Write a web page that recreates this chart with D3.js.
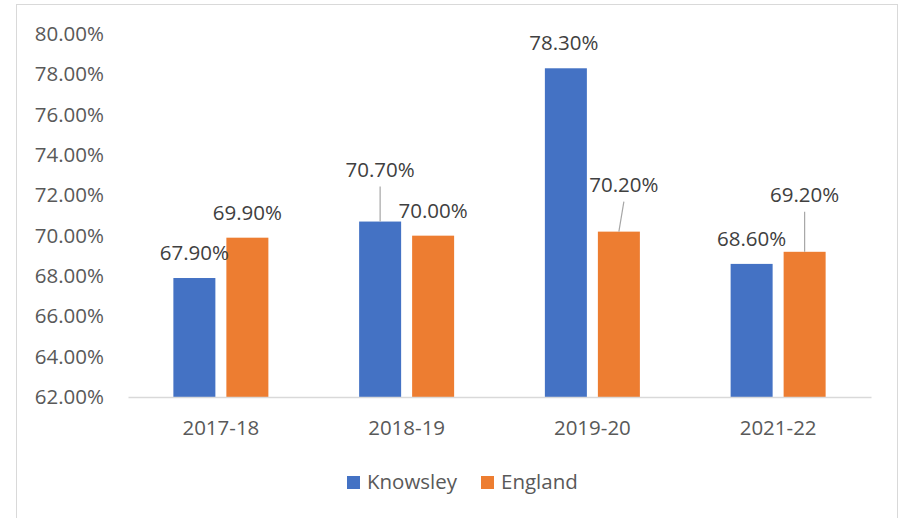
<!DOCTYPE html>
<html lang="en">
<head>
    <meta charset="UTF-8">
    <title>Knowsley vs England</title>
    <style>
        html,body{
            margin: 0;
            padding: 0;
            background: #fff;
        }
        svg text{
            font-family: "Open Sans", "Liberation Sans", sans-serif;
        }
    </style>
</head>
<body>
<div id="chart"></div>

<script src="https://d3js.org/d3.v7.min.js"></script>
<script>
    // data
    const years = ['2017-18', '2018-19', '2019-20', '2021-22']
    const series = ['Knowsley', 'England']
    const knowsley = [67.9, 70.7, 78.3, 68.6]
    const england = [69.9, 70.0, 70.2, 69.2]
    const yTicks = [62, 64, 66, 68, 70, 72, 74, 76, 78, 80]
    const colors = ['#4472C4', '#ED7D31']

    // manual nudges for labels that Excel moved (px), [series][year]
    const labelNudge = [
        [[0, 0], [0, -27], [-2, 0], [0, 0]],
        [[0, 0], [0, 0], [5, -22], [0, -32]]
    ]

    const [width, height] = [902, 518]
    const margin = {left: 128, right: 31, top: 34, bottom: 121}
    const fontSize = '20.5px'

    const svg = d3.select('#chart').append('svg')
        .attr('width', width)
        .attr('height', height)

    // chart frame
    svg.append('rect')
        .attr('x', 16.5).attr('y', 4.5)
        .attr('width', 881).attr('height', 530)
        .attr('fill', 'none')
        .attr('stroke', '#d9d9d9')

    const x = d3.scaleBand()
        .domain(years)
        .range([margin.left, width - margin.right])
    const barW = 42, barGap = 11
    const xs = d3.scaleOrdinal()
        .domain(series)
        .range([-barGap / 2 - barW, barGap / 2])

    const y = d3.scaleLinear()
        .domain([62, 80])
        .range([height - margin.bottom, margin.top])

    // y axis (labels only)
    const yAxis = svg.append('g')
        .attr('transform', `translate(${margin.left},0)`)
        .call(d3.axisLeft(y).tickValues(yTicks).tickSize(0).tickPadding(24)
            .tickFormat(d => d.toFixed(2) + '%'))
    yAxis.select('.domain').remove()
    yAxis.selectAll('text')
        .attr('fill', '#595959')
        .style('font-size', fontSize)

    const rows = series.map((s, i) => ({
        name: s,
        values: (i === 0 ? knowsley : england).map((v, j) => ({year: years[j], v: v, si: i, yi: j}))
    }))

    const groups = svg.selectAll('.series')
        .data(rows)
        .join('g')
        .attr('fill', (d, i) => colors[i])

    groups.selectAll('rect')
        .data(d => d.values)
        .join('rect')
        .attr('x', d => x(d.year) + x.bandwidth() / 2 + xs(series[d.si]))
        .attr('width', barW)
        .attr('y', d => y(d.v))
        .attr('height', d => y(62) - y(d.v))

    // x axis
    const xAxis = svg.append('g')
        .attr('transform', `translate(0,${y(62)})`)
        .call(d3.axisBottom(x).tickSize(0).tickPadding(23))
    xAxis.select('.domain').attr('stroke', '#d9d9d9').attr('stroke-width', 1.5)
    xAxis.selectAll('text')
        .attr('fill', '#595959')
        .style('font-size', fontSize)

    // data labels
    const all = rows.flatMap(r => r.values)
    const cx = d => x(d.year) + x.bandwidth() / 2 + xs(series[d.si]) + barW / 2
    const baseY = d => y(d.v) - 18

    all.forEach(d => {
        const [dx, dy] = labelNudge[d.si][d.yi]
        const lx = cx(d) + dx, ly = baseY(d) + dy
        if (dy < -10) {
            svg.append('line')
                .attr('x1', lx).attr('y1', ly + 10)
                .attr('x2', cx(d)).attr('y2', y(d.v))
                .attr('stroke', '#a6a6a6')
                .attr('stroke-width', 1.2)
        }
        svg.append('text')
            .attr('x', lx).attr('y', ly)
            .attr('text-anchor', 'middle')
            .attr('fill', '#404040')
            .style('font-size', fontSize)
            .text(d.v.toFixed(2) + '%')
    })

    // legend
    const legend = svg.append('g').attr('transform', 'translate(347,476)')
    const legX = [0, 134]
    series.forEach((s, i) => {
        const g = legend.append('g').attr('transform', `translate(${legX[i]},0)`)
        g.append('rect').attr('width', 13).attr('height', 13).attr('fill', colors[i])
        g.append('text')
            .attr('x', 20).attr('y', 13)
            .attr('fill', '#595959')
            .style('font-size', fontSize)
            .text(s)
    })
</script>
</body>
</html>
